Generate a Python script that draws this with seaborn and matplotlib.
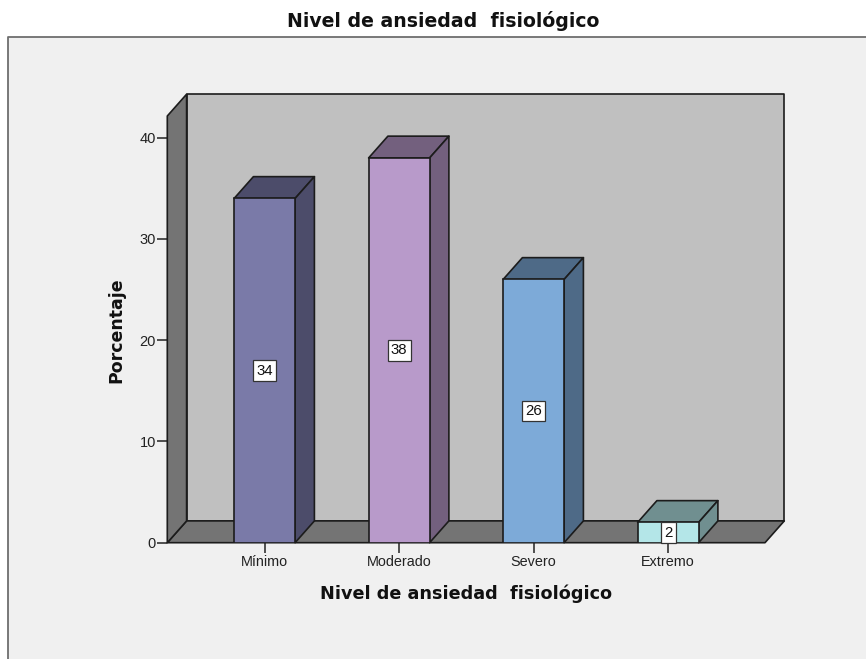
import matplotlib
matplotlib.use("Agg")
import matplotlib.pyplot as plt
from matplotlib.patches import Polygon
from matplotlib.lines import Line2D
import pandas as pd
import seaborn as sns

categories = ["Mínimo", "Moderado", "Severo", "Extremo"]
values = [34, 38, 26, 2]
front_colors = ["#7a7aa8", "#b89aca", "#7daad8", "#b4e6e8"]
side_colors = ["#4c4c6a", "#73607e", "#4e6a87", "#708f90"]
title = "Nivel de ansiedad  fisiológico"
ylabel = "Porcentaje"
yticks = [0, 10, 20, 30, 40]

W, H = 866, 659
BG = "#f0f0f0"
DX, DY = 19.3, 21.8  # depth offset in pixels
L, R, B, T = 167.3, 765.0, 542.7, 116.0

sns.set_theme(style="white")
plt.rcParams["font.family"] = ["Liberation Sans", "DejaVu Sans"]

fig = plt.figure(figsize=(W / 100, H / 100), dpi=100, facecolor="white")
ax = fig.add_axes([L / W, 1 - B / H, (R - L) / W, (B - T) / H])
ax.set_facecolor("none")

# page panel under the plot
fig.patches.append(plt.Rectangle((8 / W, 0), 1 - 8 / W, 1 - 36.5 / H, transform=fig.transFigure,
                                 facecolor=BG, edgecolor="none", zorder=-5))
fig.lines.append(Line2D([8 / W, 8 / W, 1], [0, 1 - 36.5 / H, 1 - 36.5 / H], transform=fig.transFigure,
                        color="#6e6e6e", lw=1.3, zorder=-4))

df = pd.DataFrame({"cat": categories, "val": values})
sns.barplot(data=df, x="cat", y="val", hue="cat", palette=front_colors, legend=False,
            width=0.4535, saturation=1, ax=ax, edgecolor="#1c1c1c", linewidth=1.2, zorder=5)

px_per_x = 134.5
ax.set_xlim(-(264.6 - L) / px_per_x, (R - 264.6) / px_per_x)
px_per_y = (B - 137.7) / 40
ax.set_ylim(0, (B - T) / px_per_y)
dx, dy = DX / px_per_x, DY / px_per_y


def face(pts, color, z):
    ax.add_patch(Polygon(pts, closed=True, facecolor=color, edgecolor="#1c1c1c", lw=1.2,
                         clip_on=False, zorder=z, joinstyle="round"))


x0, x1 = ax.get_xlim()
y0, y1 = ax.get_ylim()
# back wall, floor, side wall
face([(x0 + dx, y0 + dy), (x1 + dx, y0 + dy), (x1 + dx, y1 + dy), (x0 + dx, y1 + dy)], "#c0c0c0", 1)
face([(x0, y0), (x1, y0), (x1 + dx, y0 + dy), (x0 + dx, y0 + dy)], "#747474", 2)
face([(x0, y0), (x0 + dx, y0 + dy), (x0 + dx, y1 + dy), (x0, y1)], "#747474", 2)

# depth faces derived from the drawn bars
for bar, side, v in zip(ax.patches[:len(values)], side_colors, values):
    a, w, h = bar.get_x(), bar.get_width(), bar.get_height()
    b = a + w
    face([(a, h), (b, h), (b + dx, h + dy), (a + dx, h + dy)], side, 4)
    face([(b, 0), (b + dx, dy), (b + dx, h + dy), (b, h)], side, 4)
    ax.text(a + w / 2, h / 2, str(v), ha="center", va="center", fontsize=10.8, color="#111111", zorder=8,
            bbox=dict(boxstyle="square,pad=0.22", facecolor="white", edgecolor="#333333", lw=0.9))

sns.despine(ax=ax, left=True, bottom=True, top=True, right=True)
ax.set_yticks(yticks)
ax.set_xticks(range(len(categories)))
ax.set_xticklabels(categories)
ax.tick_params(axis="y", length=7.2, width=1.1, color="#222222", labelsize=10.5, labelcolor="#222222", pad=1, left=True)
ax.tick_params(axis="x", length=7, width=1.1, color="#222222", labelsize=10.4, labelcolor="#222222", pad=1.5, bottom=True)
ax.set_xlabel("")
ax.set_ylabel("")

wide = ["DejaVu Sans", "Liberation Sans"]
fig.text(443.5 / W, 1 - 21 / H, title, ha="center", va="center", fontsize=13.6, fontweight="bold",
         color="#111111", family=wide)
fig.text(466 / W, 1 - 594 / H, title, ha="center", va="center", fontsize=12.7, fontweight="bold",
         color="#111111", family=wide)
fig.text(116 / W, 1 - 330 / H, ylabel, ha="center", va="center", rotation=90, fontsize=12.5,
         fontweight="bold", color="#111111", family=wide)

fig.savefig("out.png", dpi=100, facecolor="white")
